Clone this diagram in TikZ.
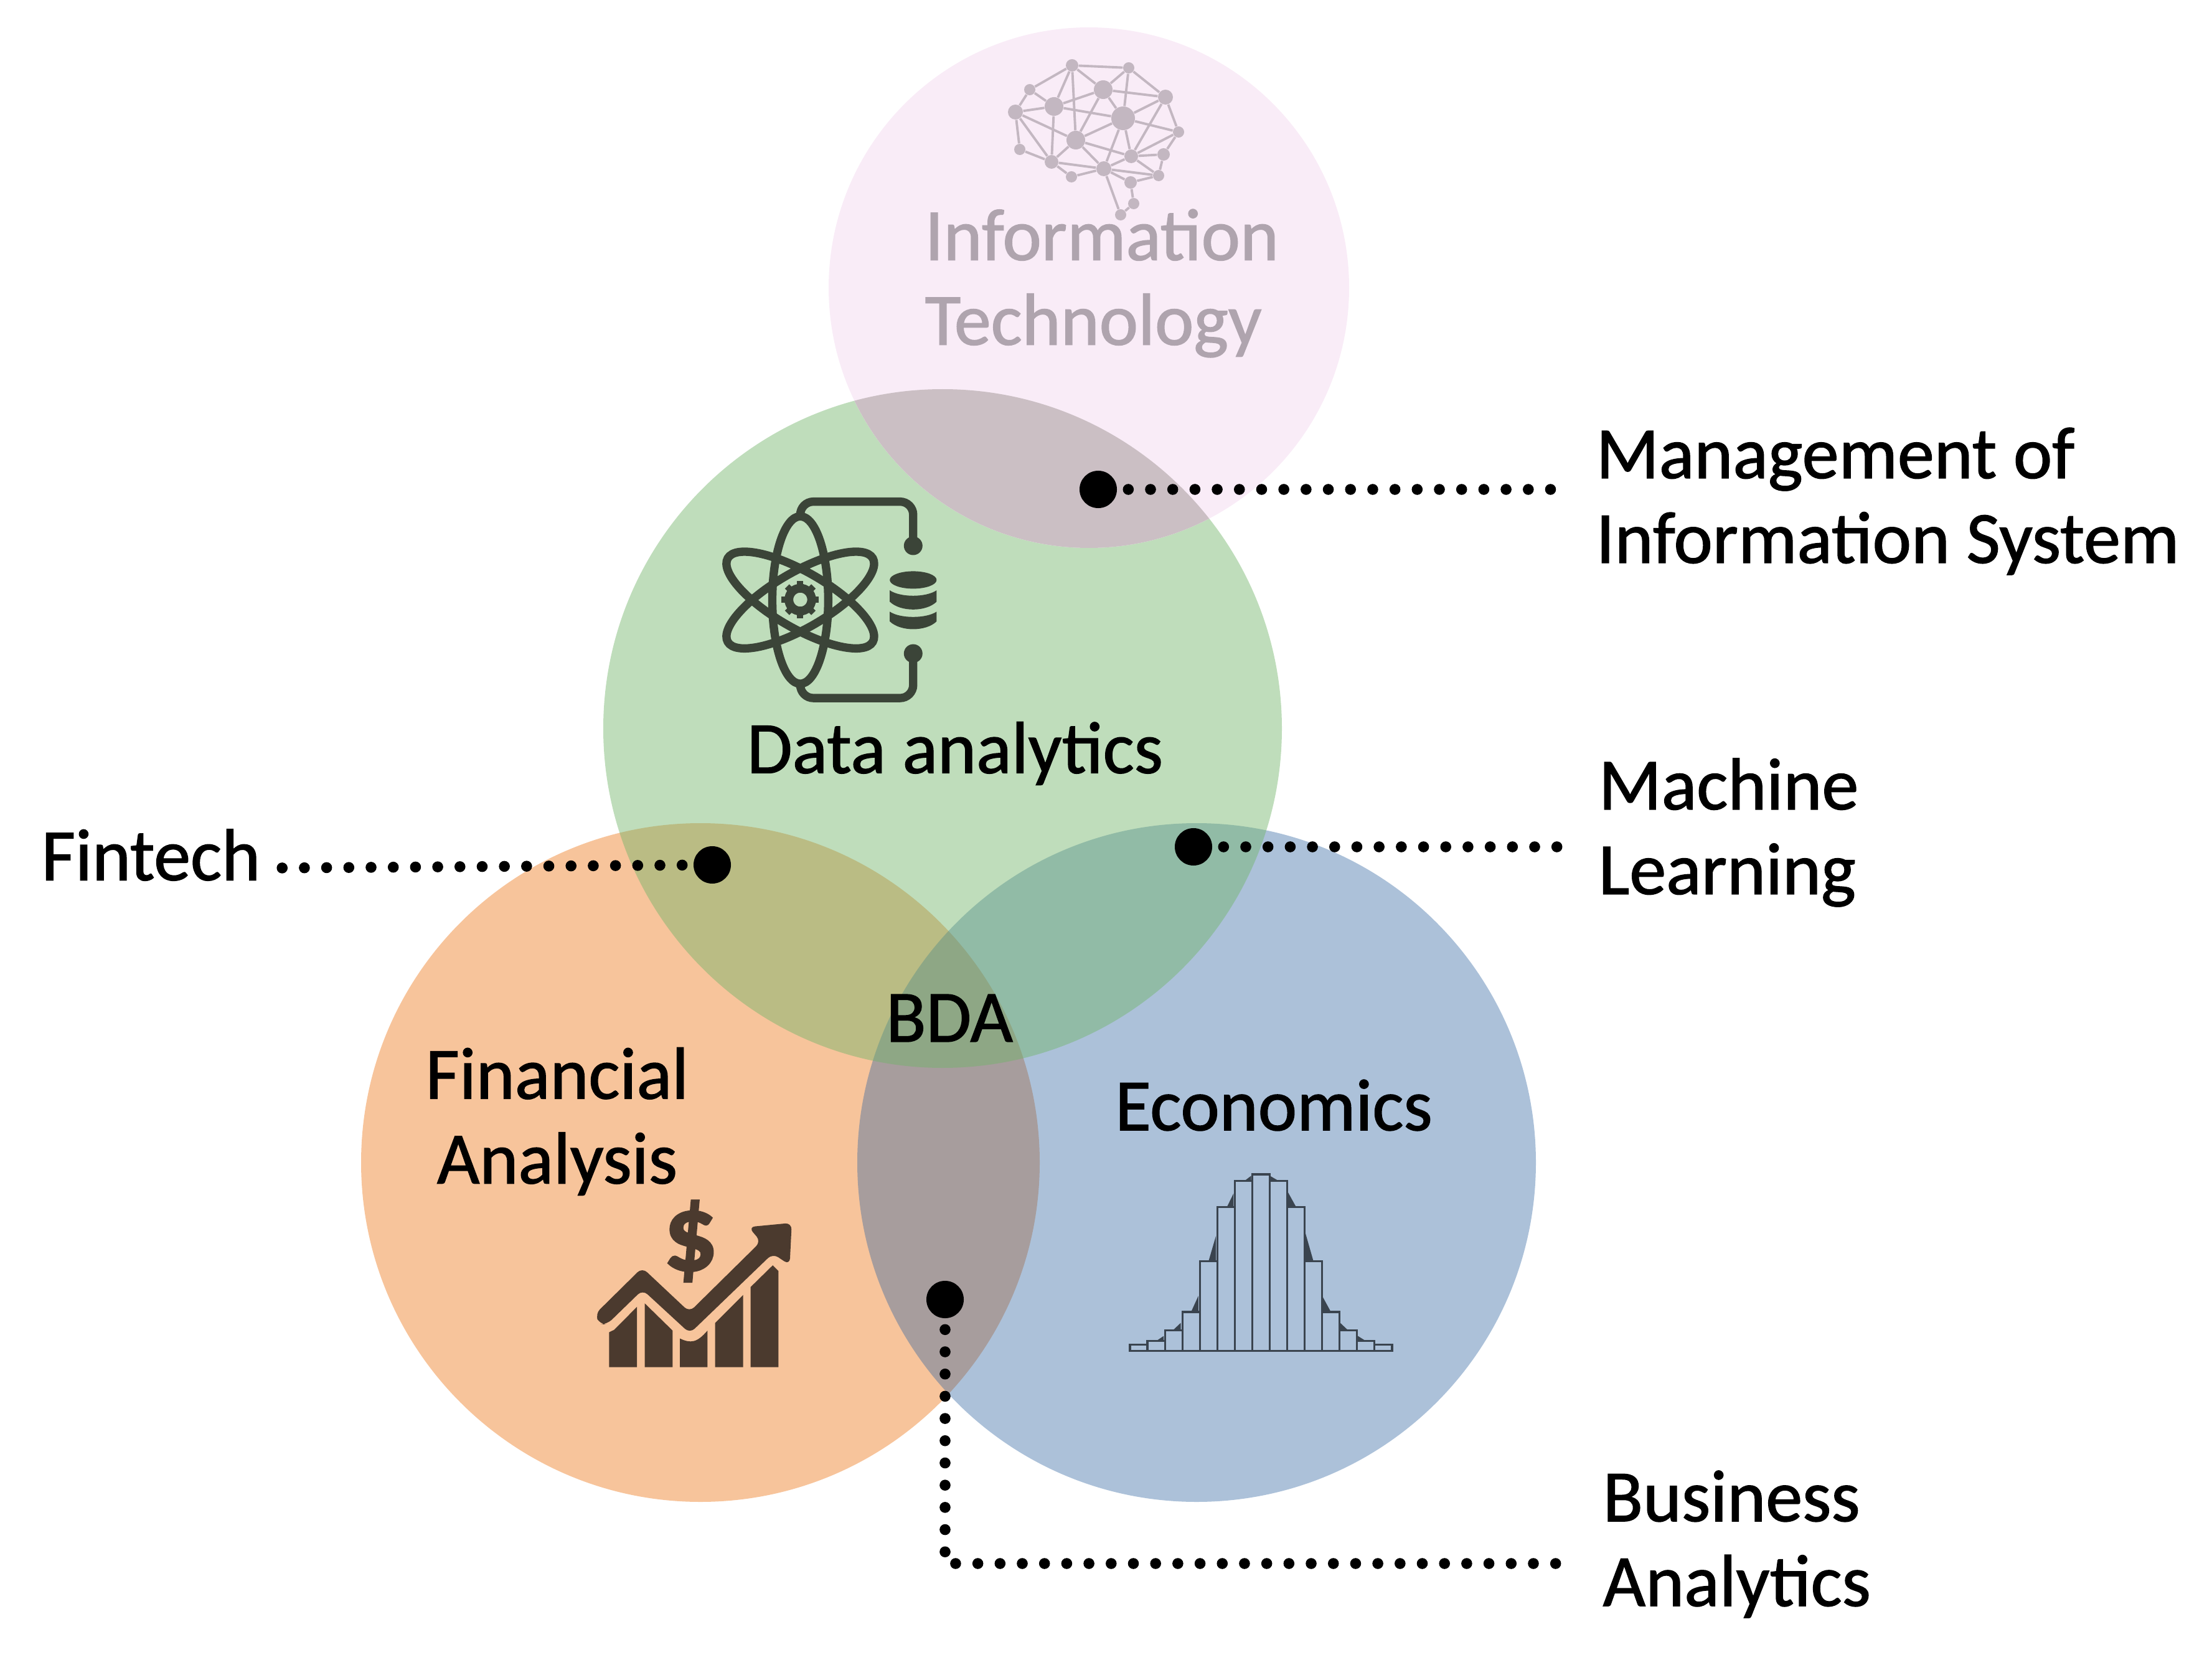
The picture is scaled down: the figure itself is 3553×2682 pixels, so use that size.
\documentclass[tikz,border=0pt]{standalone}
\usepackage{fontspec}
\setmainfont{Carlito}[FakeBold=1.2]
\usetikzlibrary{positioning}
\definecolor{orangefill}{HTML}{F7C49B}
\definecolor{bluefill}{HTML}{2F64A0}
\definecolor{greenfill}{HTML}{71B468}
\definecolor{pinkfill}{HTML}{F9ECF7}
\definecolor{pinkmix}{HTML}{CBBFC4}
\definecolor{brainc}{HTML}{C3B7C1}
\definecolor{infotext}{HTML}{AFA4AE}
\definecolor{atomc}{HTML}{3B4438}
\definecolor{moneyc}{HTML}{4B3A2E}
\definecolor{histc}{HTML}{3A444F}
\tikzset{
	label/.style={font=\fontsize{33.6}{38.7}\selectfont, inner sep=0pt, align=left},
	dotnode/.style={circle, fill=black, inner sep=0pt, minimum size=60*0.2845pt},
	dotline/.style={line width=5pt, line cap=round, dash pattern=on 0pt off 10.15pt, dash phase=5.15pt},
	brainline/.style={brainc, line width=1.1pt},
	atomline/.style={atomc, line width=3.8pt},
}
\begin{document}
\begin{tikzpicture}[x=0.01cm,y=-0.01cm]
	\useasboundingbox (0,0) rectangle (3553,2682);
	%Circles
	\fill [orangefill] (1125,1867) circle (545);
	\fill [bluefill, fill opacity=0.4] (1922,1867) circle (545);
	\fill [greenfill, fill opacity=0.45] (1514,1170) circle (545);
	\fill [pinkfill] (1749,462) circle (418);
	\begin{scope}
		\clip (1514,1170) circle (545);
		\fill [pinkmix] (1749,462) circle (418);
	\end{scope}

	%Brain
	\foreach \i/\x/\y/\r in {1/1722/105/10,2/1813/109/9,3/1654/144/9,4/1772/144/15,5/1872/156/12,6/1693/171/15,7/1631/180/12,8/1804/190/19,9/1893/212/9,10/1728/225/15,11/1638/240/9,12/1817/251/11,13/1869/248/10,14/1689/260/11,15/1773/271/12,16/1721/284/9,17/1861/282/9,18/1816/293/10,19/1821/327/9,20/1800/345/9}{
		\node (brain\i) [circle, fill=brainc, inner sep=0pt, minimum size=2*\r*0.2845pt] at (\x,\y) {};
	}
	\foreach \a/\b in {1/2,1/3,1/4,1/6,1/10,2/4,2/8,2/5,3/6,3/7,4/5,4/6,4/8,4/10,5/8,5/9,5/12,6/7,6/8,6/14,7/10,7/11,7/14,8/9,8/10,8/12,8/15,9/12,9/13,10/12,10/14,10/15,11/14,12/13,12/15,12/17,13/17,14/15,14/16,15/16,15/17,15/18,15/20,17/18,18/19,19/20}{
		\draw [brainline] (brain\a) -- (brain\b);
	}

	%Atom
	\begin{scope}[shift={(1130,770)},x=0.003333cm,y=-0.003333cm]
		\foreach \ang in {0,60,120}{
			\draw [atomline, rotate around={\ang:(467,582)}] (467,582) ellipse (135 and 404);
		}
		\draw [atomline, rounded corners=6pt] (467,178)--(467,107)--(1012,107)--(1012,320);
		\draw [atomline, rounded corners=6pt] (467,985)--(467,1055)--(1012,1055)--(1012,840);
		\fill [atomc] (1012,320) circle (45) (1012,840) circle (45);
		%Gear
		\draw [atomc, line width=4pt] (467,580) circle (55);
		\foreach \ang in {0,45,...,315}{
			\fill [atomc, rotate around={\ang:(467,580)}] (452,490)--(482,490)--(482,530)--(452,530)--cycle;
		}
		%Database
		\fill [atomc] (1012,485) ellipse (113 and 42);
		\fill [atomc] (899,535) .. controls (950,570) and (1074,570) .. (1125,535)--(1125,590) .. controls (1074,640) and (950,640) .. (899,590)--cycle;
		\fill [atomc] (899,638) .. controls (950,672) and (1074,672) .. (1125,638)--(1125,685) .. controls (1074,735) and (950,735) .. (899,685)--cycle;
	\end{scope}

	%Money
	\begin{scope}[shift={(930,1900)},x=0.003333cm,y=-0.003333cm]
		\fill [moneyc, rounded corners=3pt] (78,632)--(305,408)--(533,622)--(878,282)--(818,212)--(1027,192)--(1017,395)--(935,340)--(535,725)--(307,515)--(135,682)--(100,682)--cycle;
		\fill [moneyc] (145,720)--(170,708)--(280,597)--(280,888)--(145,888)--cycle;
		\fill [moneyc] (317,580)--(452,712)--(452,888)--(317,888)--cycle;
		\fill [moneyc] (487,750) .. controls (540,775) and (570,770) .. (620,712)--(620,888)--(487,888)--cycle;
		\fill [moneyc] (657,675)--(792,540)--(792,888)--(657,888)--cycle;
		\fill [moneyc] (828,502)--(935,397)--(963,425)--(963,888)--(828,888)--cycle;
		\node (dollar) [moneyc, inner sep=0pt, font=\fontsize{50}{50}\selectfont\bfseries] at (538,280) {\$};
	\end{scope}

	%Histogram
	\begin{scope}[shift={(1790,1860)},x=0.003333cm,y=-0.003333cm]
		\fill [histc] (320,795)--(285,828)--(320,828)--cycle;
		\fill [histc] (405,665)--(370,742)--(405,742)--cycle;
		\fill [histc] (490,375)--(455,495)--(490,495)--cycle;
		\fill [histc] (575,170)--(545,232)--(575,232)--cycle;
		\fill [histc] (660,85)--(630,108)--(660,108)--cycle;
		\fill [histc] (238,858)--(205,880)--(238,880)--cycle;
		\fill [histc] (750,85)--(790,108)--(750,108)--cycle;
		\fill [histc] (838,165)--(875,232)--(838,232)--cycle;
		\fill [histc] (920,355)--(960,495)--(920,495)--cycle;
		\fill [histc] (1003,665)--(1045,742)--(1003,742)--cycle;
		\fill [histc] (1090,795)--(1125,828)--(1090,828)--cycle;
		\fill [histc] (1175,858)--(1210,880)--(1175,880)--cycle;
		\foreach \i/\t in {0/900,1/883,2/830,3/742,4/498,5/235,6/110,7/78,8/110,9/235,10/498,11/742,12/830,13/883,14/900}{
			\draw [histc, line width=0.9pt] ({75+84.33*\i},930) rectangle ({75+84.33*(\i+1)},\t);
		}
	\end{scope}

	%Circle labels
	\node (info) [label, infotext, anchor=west] at (1485,455) {Information\\Technology};
	\node (data) [label] at (1534,1210) {Data analytics};
	\node (bda) [label] at (1525,1635) {BDA};
	\node (fin) [label, align=center] at (895,1801) {Financial\\Analysis};
	\node (eco) [label] at (2046,1775) {Economics};

	%Outer labels
	\node (mis) [label, anchor=west] at (2563,805) {Management of\\Information System};
	\node (ml) [label, anchor=west] at (2567,1337) {Machine\\Learning};
	\node (ba) [label, anchor=west] at (2574,2480) {Business\\Analytics};
	\node (fintech) [label, anchor=west] at (66,1373) {Fintech};

	%Dots and connectors
	\node (dotmis) [dotnode] at (1764,786) {};
	\node (dotml) [dotnode] at (1917,1360) {};
	\node (dotba) [dotnode] at (1518,2087) {};
	\node (dotfin) [dotnode] at (1144,1389) {};
	\coordinate (endmis) at (2506,786);
	\coordinate (endml) at (2511,1360);
	\coordinate (endba) at (2504,2511);
	\coordinate (endfin) at (446,1394);
	\draw [dotline] (dotmis) -- (endmis);
	\draw [dotline] (dotml) -- (endml);
	\draw [dotline] (dotfin) -- (endfin);
	\draw [dotline] (dotba) |- (endba);
\end{tikzpicture}
\end{document}
